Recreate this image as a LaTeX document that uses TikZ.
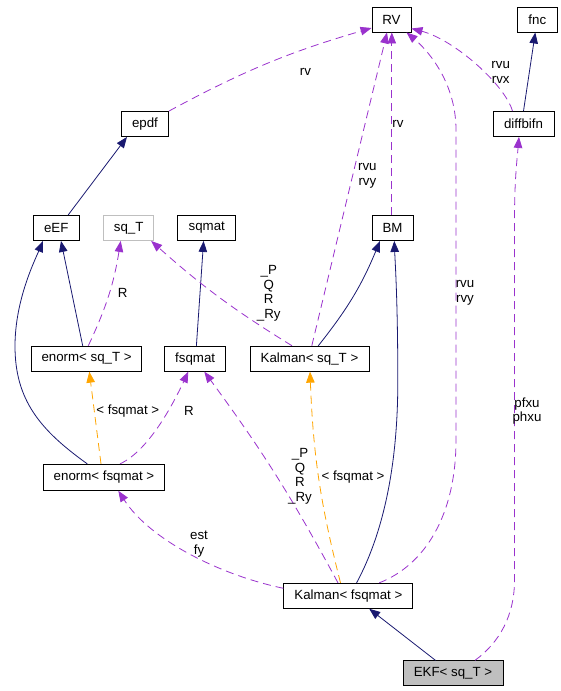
\documentclass[tikz,border=0pt]{standalone}
\usepackage{fontspec}
\setmainfont{Liberation Sans}
\definecolor{dxnavy}{RGB}{25,25,112}
\definecolor{dxpurple}{RGB}{154,50,205}
\definecolor{dxorange}{RGB}{255,165,0}
\definecolor{dxgrey}{RGB}{191,191,191}
\usetikzlibrary{arrows.meta}
\usetikzlibrary{calc}

\begin{document}
\begin{tikzpicture}[x=1pt, y=-1pt,
  >={Triangle[length=11pt, width=8.5pt]},
  every node/.style={font=\fontsize{13.3}{14.5}\selectfont},
  cls/.style={draw, line width=0.9pt, inner sep=0pt, minimum height=25pt},
  inherit/.style={->, dxnavy, line width=0.8pt},
  usage/.style={->, dxpurple, line width=0.8pt, dash pattern=on 8pt off 5pt},
  templ/.style={->, dxorange, line width=0.8pt, dash pattern=on 8pt off 5pt},
  lbl/.style={align=center, inner sep=0pt}]

  \useasboundingbox (0,0) rectangle (561,691);

  % classes
  \node [cls, minimum width=39pt] (rv) at (391.5,19.5) {RV};
  \node [cls, minimum width=40pt] (fnc) at (537.3,19.5) {fnc};
  \node [cls, minimum width=47pt] (epdf) at (145,124) {epdf};
  \node [cls, minimum width=61pt] (diffbifn) at (523.5,124) {diffbifn};
  \node [cls, minimum width=46pt] (eef) at (56.3,228) {eEF};
  \node [cls, draw=dxgrey, minimum width=50pt] (sqt) at (128.7,228) {sq\_T};
  \node [cls, minimum width=58pt] (sqmat) at (206.8,228) {sqmat};
  \node [cls, minimum width=41pt] (bm) at (392.5,228) {BM};
  \node [cls, minimum width=110pt] (enormsq) at (86.6,358.7) {enorm< sq\_T >};
  \node [cls, minimum width=61pt] (fsqmat) at (195.2,358.7) {fsqmat};
  \node [cls, minimum width=119pt] (kalmansq) at (309.5,358.7) {Kalman< sq\_T >};
  \node [cls, minimum width=121pt, minimum height=26pt] (enormf) at (104,477.3) {enorm< fsqmat >};
  \node [cls, minimum width=129pt] (kalmanf) at (348.4,595.8) {Kalman< fsqmat >};
  \node [cls, fill=dxgrey, minimum width=100pt] (ekf) at (453,673.3) {EKF< sq\_T >};

  % inheritance
  \draw [inherit] ([xshift=11.8pt]eef.north) -- ([xshift=-18pt]epdf.south);
  \draw [inherit] (diffbifn.north) -- ([xshift=-2pt]fnc.south);
  \draw [inherit] ([xshift=-3.9pt]enormsq.north) -- ([xshift=4.7pt]eef.south);
  \draw [inherit] ([xshift=-16.7pt]enormf.north) .. controls (40,430) and (15,400) .. (15,346)
    .. controls (15,300) and (35,260) .. ([xshift=-13.3pt]eef.south);
  \draw [inherit] ([xshift=1.2pt]fsqmat.north) -- ([xshift=-3.2pt]sqmat.south);
  \draw [inherit] ([xshift=8.8pt]kalmansq.north) to [bend right=8] ([xshift=-12.5pt]bm.south);
  \draw [inherit] ([xshift=8.2pt]kalmanf.north) .. controls (385,530) and (398,460) .. (397.8,380)
    .. controls (397.8,300) and (395,260) .. ([xshift=1.8pt]bm.south);
  \draw [inherit] ([xshift=-17.5pt]ekf.north) -- ([xshift=20.8pt]kalmanf.south);

  % members
  \draw [usage] (epdf.north east) to [bend left=6] ([yshift=-8.5pt]rv.west);
  \draw [usage] ([xshift=-11pt]diffbifn.north) .. controls (505,85) and (455,40) .. ([yshift=-9pt]rv.east);
  \draw [usage] ([xshift=-0.7pt]bm.north) -- ([xshift=0.3pt]rv.south);
  \draw [usage] ([xshift=2.3pt]kalmansq.north) -- ([xshift=-4.5pt]rv.south);
  \draw [usage] ([xshift=30.8pt]kalmanf.north) .. controls (425,565) and (456,515) .. (456,440)
    -- (456,130) .. controls (456,80) and (425,48) .. ([xshift=15pt]rv.south);
  \draw [usage] ([xshift=22pt]ekf.north) .. controls (500,642) and (514.5,615) .. (514.5,580)
    -- (514.5,220) .. controls (514.5,180) and (517,160) .. ([xshift=-4.5pt]diffbifn.south);
  \draw [usage] ([xshift=-17.5pt]kalmansq.north) to [bend left=5] ([xshift=-3pt]sqt.south east);
  \draw [usage] ([xshift=1.7pt]enormsq.north) to [bend right=8] ([xshift=-8pt]sqt.south);
  \draw [usage] ([xshift=16pt]enormf.north) .. controls (150,450) and (175,400) .. ([xshift=-6.9pt]fsqmat.south);
  \draw [usage] ([xshift=-10.4pt]kalmanf.north) to [bend right=4] ([xshift=9.1pt]fsqmat.south);
  \draw [usage] ([yshift=7.5pt]kalmanf.west) .. controls (220,575) and (150,540) .. ([xshift=14.3pt]enormf.south);

  % template instances
  \draw [templ] ([xshift=-3pt]enormf.north) -- ([xshift=2.7pt]enormsq.south);
  \draw [templ] ([xshift=-7.9pt]kalmanf.north) to [bend left=6] ([xshift=0.5pt]kalmansq.south);

  % edge labels
  \node [lbl] (lrv) at (305.4,71.7) {rv};
  \node [lbl] (lrvx) at (500.7,72.5) {rvu\\rvx};
  \node [lbl] (lbm) at (398,124) {rv};
  \node [lbl] (lrvy) at (367.4,176) {rvu\\rvy};
  \node [lbl] (lsq) at (268.8,293.4) {\_P\\Q\\R\\\_Ry};
  \node [lbl] (lr) at (122.6,292.7) {R};
  \node [lbl] (lrvyb) at (465,293) {rvu\\rvy};
  \node [lbl] (lenorm) at (127.8,411) {< fsqmat >};
  \node [lbl] (lrf) at (188.9,411) {R};
  \node [lbl] (lpf) at (527,411) {pfxu\\phxu};
  \node [lbl] (lfsq) at (300,476.5) {\_P\\Q\\R\\\_Ry};
  \node [lbl] (lkal) at (353,476.7) {< fsqmat >};
  \node [lbl] (lest) at (199,544) {est\\fy};

\end{tikzpicture}
\end{document}
